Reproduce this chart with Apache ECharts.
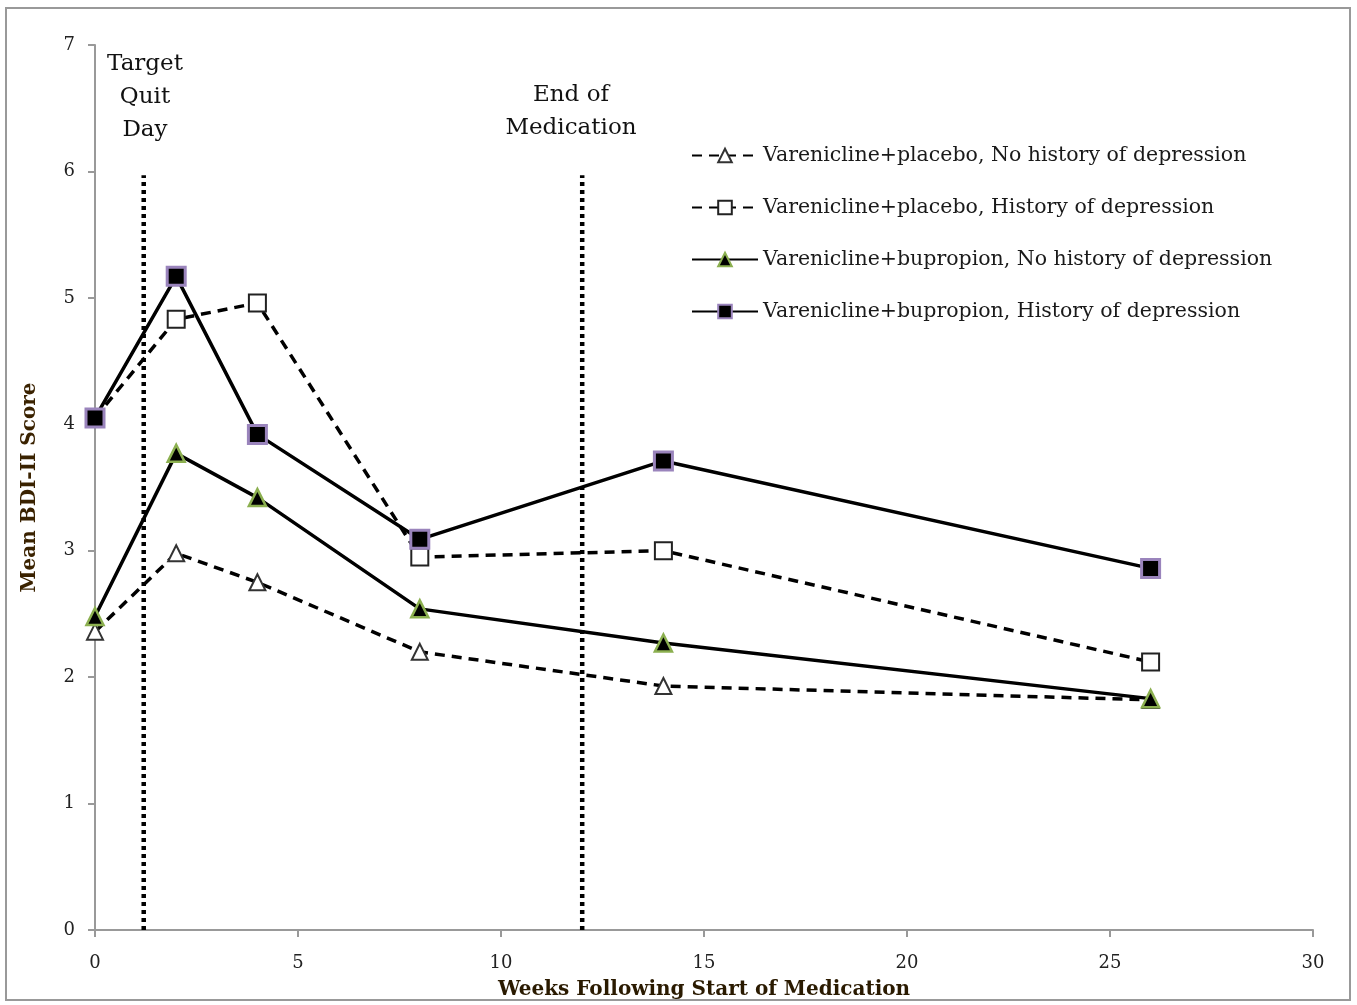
<!DOCTYPE html>
<html>
<head>
<meta charset="utf-8">
<script src="https://cdn.jsdelivr.net/npm/echarts@6/dist/echarts.min.js"></script>
<style>
  html, body { margin: 0; padding: 0; background: #fff; }
  #main { width: 1357px; height: 1005px; }
</style>
</head>
<body>
<div id="main"></div>
<script>
// weeks after start of medication
var weeks = [0, 2, 4, 8, 14, 26];

// mean BDI-II score per group
var vpNoHist = [2.36, 2.98, 2.75, 2.2, 1.93, 1.82];
var vpHist = [4.05, 4.83, 4.96, 2.95, 3.0, 2.12];
var vbNoHist = [2.48, 3.77, 3.42, 2.54, 2.27, 1.83];
var vbHist = [4.05, 5.17, 3.92, 3.09, 3.71, 2.86];

var seriesNames = [
  "Varenicline+placebo, No history of depression",
  "Varenicline+placebo, History of depression",
  "Varenicline+bupropion, No history of depression",
  "Varenicline+bupropion, History of depression"
];

// reference lines (week)
var quitDay = 1.2;
var endMedication = 12;
var refTop = 5.97;

var serif = "'DejaVu Serif', 'Liberation Serif', serif";

function pairs(xs, ys){
  return xs.map(function(x, i){ return [x, ys[i]]; });
}

var myChart = echarts.init(document.getElementById('main'));

var option = {
  animation: false,
  backgroundColor: '#fff',
  grid: {
    left: 95,
    right: 44,
    top: 45,
    bottom: 75
  },
  legend: {
    orient: 'vertical',
    left: 686,
    top: 140,
    itemGap: 31,
    itemWidth: 66,
    itemHeight: 17,
    data: seriesNames,
    textStyle: {
      fontFamily: serif,
      fontSize: 20.5,
      color: '#1a1a1a'
    }
  },
  xAxis: {
    type: 'value',
    min: 0,
    max: 30,
    interval: 5,
    name: 'Weeks Following Start of Medication',
    nameLocation: 'middle',
    nameGap: 50,
    nameTextStyle: {
      fontFamily: serif,
      fontWeight: 'bold',
      fontSize: 20,
      color: '#2a1a00'
    },
    axisLine: { lineStyle: { color: '#999', width: 2 } },
    axisTick: { length: 7, lineStyle: { color: '#999', width: 2 } },
    axisLabel: {
      margin: 24,
      fontFamily: serif,
      fontSize: 18,
      color: '#222'
    },
    splitLine: { show: false }
  },
  yAxis: {
    type: 'value',
    min: 0,
    max: 7,
    interval: 1,
    name: 'Mean BDI-II Score',
    nameLocation: 'middle',
    nameGap: 55,
    nameRotate: 90,
    nameTextStyle: {
      fontFamily: serif,
      fontWeight: 'bold',
      fontSize: 20,
      color: '#3a2200'
    },
    axisLine: { show: true, lineStyle: { color: '#999', width: 2 } },
    axisTick: { show: true, length: 7, lineStyle: { color: '#999', width: 2 } },
    axisLabel: {
      margin: 20,
      fontFamily: serif,
      fontSize: 18,
      color: '#222'
    },
    splitLine: { show: false }
  },
  series: [
    {
      name: seriesNames[0],
      type: 'line',
      data: pairs(weeks, vpNoHist),
      symbol: 'triangle',
      symbolSize: 16,
      z: 3,
      lineStyle: { color: '#000', width: 3.5, type: [10, 7] },
      itemStyle: { color: '#fff', borderColor: '#333', borderWidth: 2 }
    },
    {
      name: seriesNames[1],
      type: 'line',
      data: pairs(weeks, vpHist),
      symbol: 'rect',
      symbolSize: 17,
      z: 3,
      lineStyle: { color: '#000', width: 3.5, type: [10, 7] },
      itemStyle: { color: '#fff', borderColor: '#222', borderWidth: 2 }
    },
    {
      name: seriesNames[2],
      type: 'line',
      data: pairs(weeks, vbNoHist),
      symbol: 'triangle',
      symbolSize: 17,
      z: 4,
      lineStyle: { color: '#000', width: 3.5 },
      itemStyle: { color: '#000', borderColor: '#8cb050', borderWidth: 2.5 }
    },
    {
      name: seriesNames[3],
      type: 'line',
      data: pairs(weeks, vbHist),
      symbol: 'rect',
      symbolSize: 18,
      z: 4,
      lineStyle: { color: '#000', width: 3.5 },
      itemStyle: { color: '#000', borderColor: '#9a84bc', borderWidth: 3 }
    },
    {
      name: 'quit',
      type: 'line',
      data: [[quitDay, 0], [quitDay, refTop]],
      symbol: 'none',
      silent: true,
      z: 2,
      lineStyle: { color: '#000', width: 4.5, type: [4, 4] }
    },
    {
      name: 'end',
      type: 'line',
      data: [[endMedication, 0], [endMedication, refTop]],
      symbol: 'none',
      silent: true,
      z: 2,
      lineStyle: { color: '#000', width: 4.5, type: [4, 4] }
    }
  ],
  graphic: [
    {
      type: 'rect',
      shape: { x: 6, y: 8, width: 1344, height: 992 },
      style: { fill: 'none', stroke: '#999', lineWidth: 2 },
      silent: true
    },
    {
      type: 'text',
      x: 145, y: 48,
      style: {
        text: 'Target\nQuit\nDay',
        align: 'center',
        fontFamily: serif,
        fontSize: 23,
        lineHeight: 33,
        fill: '#111'
      }
    },
    {
      type: 'text',
      x: 571, y: 79,
      style: {
        text: 'End of\nMedication',
        align: 'center',
        fontFamily: serif,
        fontSize: 23,
        lineHeight: 33,
        fill: '#111'
      }
    }
  ]
};

myChart.setOption(option);
</script>
</body>
</html>
